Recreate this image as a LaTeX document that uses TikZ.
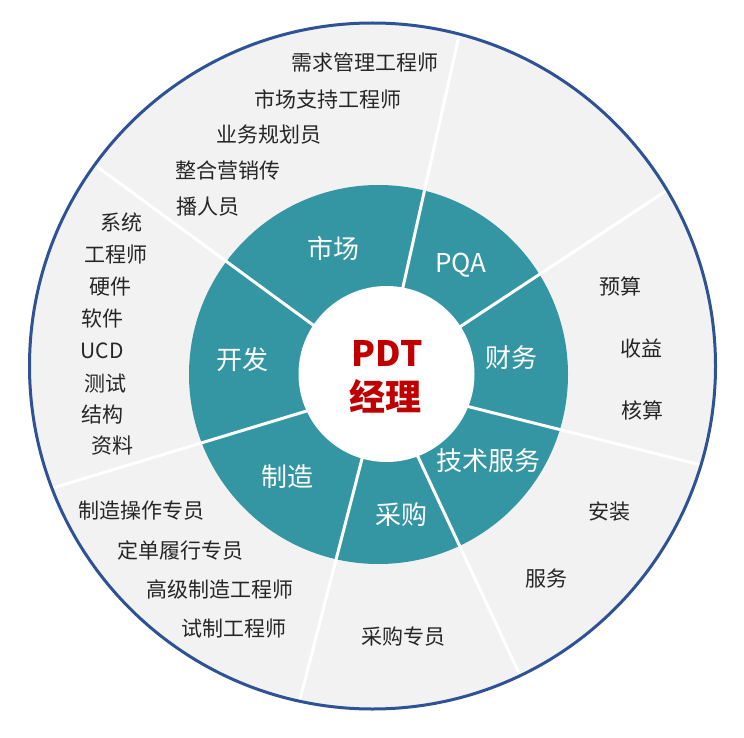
\documentclass[tikz,border=0pt]{standalone}
\usepackage{fontspec}
\setmainfont{Noto Sans CJK SC}
\usetikzlibrary{calc}
\definecolor{tealring}{HTML}{3495A3}
\definecolor{bord}{HTML}{2F5196}
\definecolor{fillg}{HTML}{F2F2F2}
\definecolor{txt}{HTML}{262626}
\definecolor{pdtred}{HTML}{C00000}
\begin{document}
\begin{tikzpicture}[x=1pt,y=-1pt,
 role/.style={font=\fontsize{21}{24}\selectfont, text=txt, inner sep=0pt},
 dept/.style={font=\fontsize{26}{30}\selectfont, text=white, inner sep=0pt},
 sepline/.style={draw=white, line width=3pt}]
\useasboundingbox (0,0) rectangle (744,738);
\coordinate (O) at (372.5,366);
\coordinate (R) at (378.5,374.5);
\coordinate (C) at (386.5,374);
\fill[fillg] (O) circle[radius=343];
\fill[tealring] (R) circle[radius=189.5];
\begin{scope}
\clip (O) circle[radius=343];
\foreach \ax/\ay/\bx/\by in {403/287/458/40, 462.7/325/662.9/193, 470/407/701/465,
  418/456.7/522/679.5, 361.7/460/300.7/696.7, 306.7/411/56/487, 311.7/324/97.8/167.2}{
  \draw[sepline] ($(\ax,\ay)!-0.15!(\bx,\by)$) -- ($(\ax,\ay)!2!(\bx,\by)$);
}
\end{scope}
\fill[white] (C) circle[radius=88];
\draw[bord, line width=3pt] (O) circle[radius=343];

% centre
\node[inner sep=0pt, text=pdtred, font=\fontsize{35}{40}\selectfont\bfseries] (pdt) at (387,353.3) {PDT};
\node[inner sep=0pt, text=pdtred, font=\fontsize{36}{40}\selectfont\bfseries] (jl) at (385.7,396.7) {经理};

% departments
\node[dept] (sc) at (333,249) {市场};
\node[dept] (pqa) at (461,265) {PQA};
\node[dept] (kf) at (242,360) {开发};
\node[dept] (cw) at (511,358) {财务};
\node[dept] (js) at (488,460.7) {技术服务};
\node[dept] (zz) at (287.5,476.7) {制造};
\node[dept] (cg) at (401.7,515) {采购};

% market roles
\node[role, anchor=west] (m1) at (291,62.7) {需求管理工程师};
\node[role, anchor=west] (m2) at (254.5,99) {市场支持工程师};
\node[role, anchor=west] (m3) at (216.5,135) {业务规划员};
\node[role, anchor=west] (m4) at (175,170.5) {整合营销传};
\node[role, anchor=west] (m5) at (176.5,207) {播人员};

% development roles
\node[role] (d1) at (121,222) {系统};
\node[role] (d2) at (116,254.5) {工程师};
\node[role] (d3) at (110,286.7) {硬件};
\node[role] (d4) at (102,318.3) {软件};
\node[role] (d5) at (102,351) {UCD};
\node[role] (d6) at (105,383.3) {测试};
\node[role] (d7) at (102.7,415) {结构};
\node[role] (d8) at (112.7,445.7) {资料};

% finance
\node[role] (f1) at (620,286) {预算};
\node[role] (f2) at (641.7,349) {收益};
\node[role] (f3) at (642,410.7) {核算};

% tech service
\node[role] (t1) at (609.5,511.7) {安装};
\node[role] (t2) at (546.7,578.3) {服务};

% purchasing
\node[role] (p1) at (403,636.7) {采购专员};

% manufacturing
\node[role] (z1) at (141,510.7) {制造操作专员};
\node[role] (z2) at (180,550.7) {定单履行专员};
\node[role] (z3) at (220.3,590) {高级制造工程师};
\node[role] (z4) at (233.7,628.3) {试制工程师};
\end{tikzpicture}
\end{document}
